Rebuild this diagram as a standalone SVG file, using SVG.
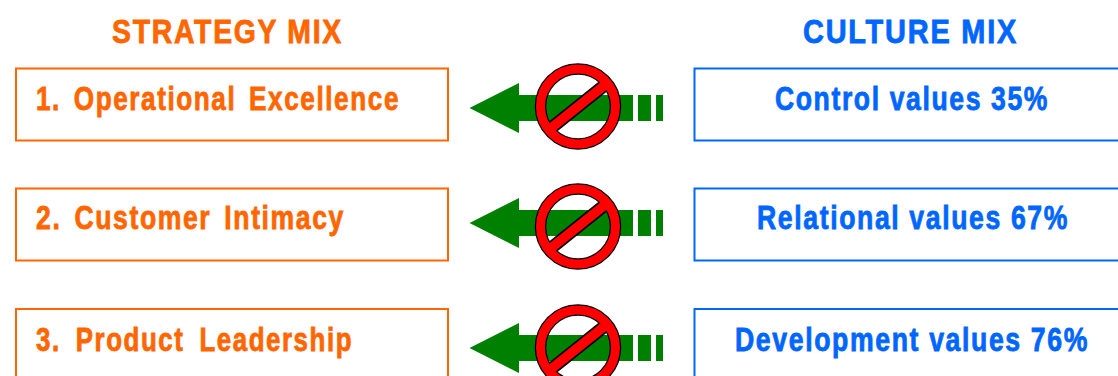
<svg xmlns="http://www.w3.org/2000/svg" width="1118" height="376" viewBox="0 0 1118 376">
<style>
.t{font-family:"Liberation Sans",Arial,sans-serif;font-weight:700;font-size:33px;stroke-width:.8px;letter-spacing:2px}
.w{word-spacing:5px}
.w2{word-spacing:8px}
.o{fill:#ff6600;stroke:#ff6600}.b{fill:#0066ff;stroke:#0066ff}
.ob{fill:#fff;stroke:#ff6600;stroke-width:2}
.bb{fill:#fff;stroke:#0066ff;stroke-width:2}
.ar{fill:#008000}
.ring{fill:none;stroke:#000;stroke-width:11.500}
.ring2{fill:none;stroke:#ff0000;stroke-width:9}
</style>
<defs>
<path id="arrow" class="ar" d="M-108.500 0 L-59 -25 V-13 H55 V13 H-59 V25 Z M60 -13 H73 V13 H60 Z M78 -13 H85 V13 H78 Z"/>
<g id="no">
<circle r="37.500" class="ring"/>
<path d="M-29 23.300 L29 -23.300" stroke="#000" stroke-width="13" fill="none"/>
<path d="M-30 24 L30 -24" stroke="#ff0000" stroke-width="9.500" fill="none"/>
<circle r="37.500" class="ring2"/>
</g>
</defs>
<text class="t o" x="112" y="43" textLength="231" lengthAdjust="spacingAndGlyphs">STRATEGY MIX</text>
<text class="t b" x="803" y="43" textLength="215" lengthAdjust="spacingAndGlyphs">CULTURE MIX</text>
<g id="s1"><rect class="ob" x="16" y="68.500" width="432" height="72"/><text class="t o w" x="36" y="110" textLength="364" lengthAdjust="spacingAndGlyphs">1. Operational Excellence</text></g>
<g id="s2"><rect class="ob" x="16" y="188.500" width="432" height="72"/><text class="t o w" x="36" y="229" textLength="309" lengthAdjust="spacingAndGlyphs">2. Customer Intimacy</text></g>
<g id="s3"><rect class="ob" x="16" y="309" width="432" height="72"/><text class="t o w2" x="36" y="351" textLength="317" lengthAdjust="spacingAndGlyphs">3. Product Leadership</text></g>
<g id="c1"><rect class="bb" x="694.500" y="68.500" width="432" height="72"/><text class="t b" x="775" y="110" textLength="274" lengthAdjust="spacingAndGlyphs">Control values 35%</text></g>
<g id="c2"><rect class="bb" x="694.500" y="188.500" width="432" height="72"/><text class="t b" x="757" y="229" textLength="312" lengthAdjust="spacingAndGlyphs">Relational values 67%</text></g>
<g id="c3"><rect class="bb" x="694.500" y="309" width="432" height="72"/><text class="t b" x="735" y="351" textLength="354" lengthAdjust="spacingAndGlyphs">Development values 76%</text></g>
<g id="connectors">
<use href="#arrow" x="578" y="108"/>
<use href="#arrow" x="578" y="223"/>
<use href="#arrow" x="578" y="348"/>
<use href="#no" x="578" y="106.500"/>
<use href="#no" x="578" y="226.500"/>
<use href="#no" x="578" y="347.500"/>
</g>
</svg>
